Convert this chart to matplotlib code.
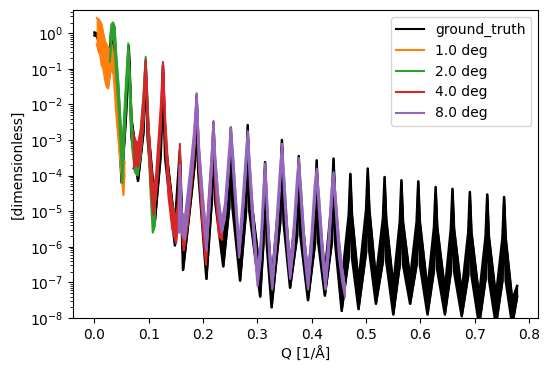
import numpy as np
import matplotlib
matplotlib.use("Agg")
import matplotlib.pyplot as plt
from matplotlib.lines import Line2D

# ---------------- data (log10 of reflectivity: lower / upper edge of noisy band) -------------
gt_q = [0.000, 0.004, 0.010, 0.016, 0.022, 0.027, 0.031, 0.036, 0.042, 0.050, 0.058, 0.063,
        0.068, 0.080, 0.090, 0.094, 0.098, 0.111, 0.122, 0.126, 0.130, 0.148, 0.157, 0.163,
        0.178, 0.185, 0.188, 0.191, 0.206, 0.216, 0.219, 0.222, 0.237, 0.248, 0.251, 0.254,
        0.268, 0.279, 0.282, 0.285, 0.305, 0.311, 0.314, 0.317, 0.326, 0.342, 0.345, 0.348,
        0.360, 0.373, 0.376, 0.379, 0.393, 0.406, 0.409, 0.412, 0.424, 0.437, 0.440, 0.443,
        0.455, 0.468, 0.471, 0.474, 0.486, 0.500, 0.503, 0.506, 0.518, 0.531, 0.534, 0.537,
        0.550, 0.562, 0.565, 0.568, 0.581, 0.593, 0.596, 0.599, 0.613, 0.625, 0.628, 0.631,
        0.645, 0.656, 0.659, 0.662, 0.676, 0.688, 0.691, 0.694, 0.708, 0.720, 0.723, 0.726,
        0.739, 0.751, 0.754, 0.757, 0.769, 0.778]
gt_lo = [-0.06, -0.08, -0.30, -0.70, -1.20, -1.20, -0.20, -0.40, -1.90, -4.20, -2.30, -0.55,
         -2.90, -4.15, -2.80, -1.00, -3.00, -5.30, -3.40, -1.10, -3.50, -5.96, -3.60, -6.65,
         -4.60, -3.60, -1.95, -3.90, -6.90, -4.70, -2.75, -4.70, -6.55, -4.90, -2.90, -4.90,
         -6.95, -5.00, -2.80, -5.00, -7.40, -5.90, -3.85, -5.90, -7.70, -5.30, -3.20, -5.30,
         -7.15, -5.70, -3.70, -5.70, -7.50, -5.90, -3.80, -5.90, -7.37, -5.87, -3.75, -5.87,
         -7.80, -6.30, -4.20, -6.30, -7.75, -6.15, -4.05, -6.15, -7.60, -6.40, -4.30, -6.40,
         -7.90, -6.50, -4.35, -6.50, -7.60, -6.50, -4.40, -6.50, -7.90, -6.65, -4.55, -6.65,
         -7.90, -6.70, -4.60, -6.70, -7.95, -6.80, -4.70, -6.80, -8.20, -6.90, -4.75, -6.90,
         -8.20, -6.95, -4.85, -6.95, -8.20, -7.40]
gt_hi = [0.02, 0.00, -0.05, -0.40, -0.90, -0.85, 0.10, -0.10, -1.50, -3.70, -1.80, -0.35,
         -2.40, -3.75, -2.30, -0.80, -2.50, -4.80, -2.90, -0.90, -3.00, -5.40, -3.30, -6.10,
         -4.10, -3.10, -1.75, -3.30, -6.30, -4.00, -2.50, -4.00, -5.90, -4.20, -2.65, -4.20,
         -6.30, -4.20, -2.58, -4.20, -6.75, -4.90, -3.62, -4.90, -6.95, -4.30, -3.00, -4.30,
         -6.55, -4.70, -3.45, -4.70, -6.85, -4.90, -3.57, -4.90, -6.75, -4.67, -3.52, -4.67,
         -7.00, -5.10, -3.95, -5.10, -7.00, -4.95, -3.80, -4.95, -6.90, -5.20, -4.04, -5.20,
         -7.10, -5.30, -4.13, -5.30, -6.90, -5.30, -4.16, -5.30, -7.20, -5.45, -4.32, -5.45,
         -7.20, -5.50, -4.37, -5.50, -7.30, -5.60, -4.46, -5.60, -7.40, -5.70, -4.53, -5.70,
         -7.40, -5.75, -4.60, -5.75, -7.50, -7.10]

d1_q = [0.004, 0.007, 0.010, 0.013, 0.016, 0.019, 0.022, 0.025, 0.028, 0.031, 0.035, 0.040,
        0.045, 0.050, 0.053, 0.055]
d1_lo = [-0.30, -0.50, -0.60, -0.90, -1.00, -1.30, -1.50, -1.55, -1.20, -0.90, -1.20, -2.30,
         -3.20, -4.10, -4.55, -4.00]
d1_hi = [0.43, 0.40, 0.35, 0.25, 0.00, -0.20, -0.30, -0.40, -0.50, -0.30, -0.60, -1.60,
         -2.40, -3.30, -3.80, -3.60]

d2_q = [0.028, 0.031, 0.034, 0.037, 0.040, 0.044, 0.048, 0.051, 0.054, 0.058, 0.062, 0.065,
        0.069, 0.074, 0.079, 0.085, 0.090, 0.094, 0.098, 0.102, 0.107, 0.111]
d2_lo = [-0.80, -0.20, 0.00, -0.50, -1.20, -2.10, -3.20, -4.20, -3.20, -1.90, -0.50, -2.00,
         -3.20, -3.90, -4.00, -3.40, -2.40, -0.90, -2.60, -4.20, -5.60, -5.40]
d2_hi = [-0.20, 0.25, 0.31, 0.20, -0.60, -1.40, -2.50, -3.40, -2.40, -1.30, -0.28, -1.20,
         -2.60, -3.30, -3.40, -2.70, -1.70, -0.66, -2.00, -3.50, -4.80, -4.90]

d4_q = [0.071, 0.075, 0.080, 0.085, 0.090, 0.094, 0.098, 0.103, 0.108, 0.113, 0.118, 0.122,
        0.126, 0.130, 0.136, 0.143, 0.150, 0.154, 0.157, 0.160, 0.164, 0.172, 0.180, 0.185,
        0.188, 0.192, 0.198, 0.205, 0.211, 0.216, 0.219, 0.223, 0.229, 0.235]
d4_lo = [-3.80, -3.70, -3.75, -3.30, -2.40, -1.00, -2.80, -4.20, -5.10, -4.60, -3.60, -2.60,
         -1.00, -3.00, -4.60, -5.50, -5.90, -5.30, -3.40, -5.50, -6.10, -5.30, -4.00, -3.00,
         -1.90, -3.80, -5.30, -6.50, -5.00, -3.80, -2.70, -4.60, -5.70, -5.80]
d4_hi = [-2.80, -3.00, -3.10, -2.70, -1.80, -0.75, -2.20, -3.50, -4.40, -4.00, -2.90, -2.00,
         -0.80, -2.40, -3.90, -4.80, -5.20, -4.70, -3.10, -4.90, -5.40, -4.70, -3.50, -2.50,
         -1.69, -3.20, -4.70, -5.80, -4.40, -3.30, -2.50, -4.00, -5.20, -5.40]

d8_q = [0.155, 0.157, 0.160, 0.166, 0.175, 0.183, 0.188, 0.192, 0.199, 0.206, 0.212, 0.216,
        0.219, 0.222, 0.228, 0.234, 0.240, 0.247, 0.251, 0.255, 0.260, 0.266, 0.272, 0.278,
        0.282, 0.286, 0.293, 0.300, 0.306, 0.311, 0.314, 0.317, 0.322, 0.327, 0.334, 0.341,
        0.345, 0.349, 0.355, 0.360, 0.366, 0.372, 0.376, 0.380, 0.386, 0.393, 0.399, 0.405,
        0.409, 0.413, 0.419, 0.425, 0.431, 0.436, 0.440, 0.444, 0.450, 0.456, 0.461]
d8_lo = [-5.60, -4.00, -5.60, -5.80, -4.60, -3.30, -1.90, -3.60, -5.00, -6.10, -4.80, -3.70,
         -2.70, -3.90, -5.00, -5.60, -5.20, -3.90, -2.90, -3.90, -5.00, -6.30, -5.30, -4.00,
         -2.95, -4.20, -5.80, -7.10, -6.30, -4.80, -3.85, -4.90, -6.40, -7.20, -6.00, -4.40,
         -3.30, -4.50, -6.00, -6.90, -6.10, -4.70, -3.70, -4.80, -6.20, -7.20, -6.20, -4.80,
         -4.00, -5.00, -6.30, -7.20, -6.20, -4.90, -4.10, -5.00, -6.30, -7.00, -7.40]
d8_hi = [-5.20, -3.70, -5.00, -5.20, -4.00, -2.80, -1.69, -3.10, -4.50, -5.70, -4.30, -3.30,
         -2.46, -3.40, -4.60, -5.30, -4.80, -3.40, -2.65, -3.40, -4.60, -5.90, -4.80, -3.50,
         -2.75, -3.70, -5.30, -6.70, -5.80, -4.30, -3.65, -4.40, -6.00, -6.80, -5.50, -3.90,
         -3.10, -4.00, -5.50, -6.50, -5.60, -4.20, -3.50, -4.30, -5.70, -6.70, -5.70, -4.30,
         -3.80, -4.50, -5.80, -6.80, -5.70, -4.40, -3.90, -4.60, -5.80, -6.60, -7.10]

labels = ["ground_truth", "1.0 deg", "2.0 deg", "4.0 deg", "8.0 deg"]
colors = ["black", "#ff7f0e", "#2ca02c", "#d62728", "#9467bd"]
edge_lw = [1.8, 1.3, 1.3, 1.3, 1.4]
series = [(gt_q, gt_lo, gt_hi), (d1_q, d1_lo, d1_hi), (d2_q, d2_lo, d2_hi),
          (d4_q, d4_lo, d4_hi), (d8_q, d8_lo, d8_hi)]

# ---------------- plot ----------------
fig = plt.figure(figsize=(5.5, 3.72), dpi=100)
ax = fig.add_axes([0.1333, 0.1452, 0.8454, 0.8279])

for i, ((q, lo, hi), c, lw) in enumerate(zip(series, colors, edge_lw)):
    q = np.asarray(q)
    lo_v = 10.0 ** np.asarray(lo)
    hi_v = 10.0 ** np.asarray(hi)
    z = 2 + i
    ax.fill_between(q, lo_v, hi_v, color=c, linewidth=0.8, edgecolor=c, zorder=z)
    ax.plot(q, hi_v, color=c, lw=lw, zorder=z)
    ax.plot(q, lo_v, color=c, lw=lw, zorder=z)

ax.set_yscale("log")
ax.set_xlim(-0.039, 0.817)
ax.set_ylim(1e-8, 4.5)
ax.set_xlabel("Q [1/Å]")
ax.set_ylabel("[dimensionless]")

handles = [Line2D([], [], color=c, lw=1.5) for c in colors]
leg = ax.legend(handles, labels, loc="upper right")
leg.set_zorder(20)

fig.savefig("out.png", dpi=100)
